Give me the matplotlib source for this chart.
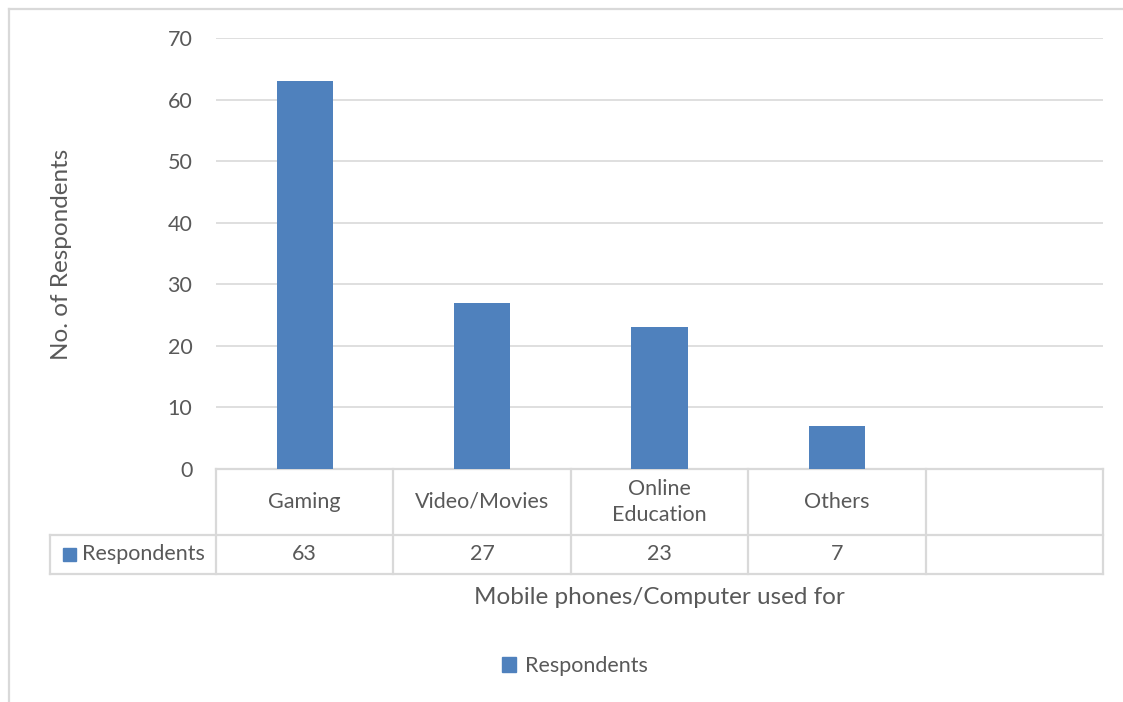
import matplotlib.pyplot as plt
import matplotlib.transforms as mtransforms
from matplotlib.patches import Patch, Rectangle

# Survey data
categories = ["Gaming", "Video/Movies", "Online\nEducation", "Others", ""]
respondents = [63, 27, 23, 7]
series_name = "Respondents"

bar_color = "#4F81BD"
text_color = "#595959"
line_color = "#D9D9D9"

plt.rcParams['font.family'] = ['Lato', 'DejaVu Sans']
fs = 15.5

W, H = 1123, 702
fig = plt.figure(figsize=(W / 100, H / 100), dpi=100)

# plot area in pixel terms
x0, x1 = 216, 1103
y_top, y_bot = 38, 469
ax = fig.add_axes([x0 / W, 1 - y_bot / H, (x1 - x0) / W, (y_bot - y_top) / H])

n = len(categories)
xs = list(range(len(respondents)))
ax.bar(xs, respondents, width=0.316, color=bar_color, zorder=3)

ax.set_xlim(-0.5, n - 0.5)
ax.set_ylim(0, 70)
ax.set_yticks(range(0, 71, 10))
ax.yaxis.grid(True, color=line_color, lw=1.2, zorder=0)
for s in ax.spines.values():
    s.set_visible(False)
ax.set_xticks([])
ax.tick_params(axis='y', length=0, pad=17, labelsize=fs, labelcolor=text_color)

# data table under the plot
trans = mtransforms.blended_transform_factory(ax.transData, ax.transAxes)
ph = y_bot - y_top
row1 = -(535 - y_bot) / ph
row2 = -(574 - y_bot) / ph
cell_w = (x1 - x0) / n
left_edge = -0.5 - (x0 - 50) / cell_w

lk = dict(color=line_color, lw=1.6, transform=trans, clip_on=False, zorder=1)
ax.plot([-0.5, n - 0.5], [0, 0], **lk)
ax.plot([left_edge, n - 0.5], [row1, row1], **lk)
ax.plot([left_edge, n - 0.5], [row2, row2], **lk)
for i in range(n + 1):
    ax.plot([i - 0.5, i - 0.5], [0, row2], **lk)
ax.plot([left_edge, left_edge], [row1, row2], **lk)

for i, cat in enumerate(categories):
    ax.text(i, row1 / 2, cat, transform=trans, ha='center', va='center',
            fontsize=fs, color=text_color, linespacing=1.4)
for i, v in enumerate(respondents):
    ax.text(i, (row1 + row2) / 2, str(v), transform=trans, ha='center',
            va='center', fontsize=fs, color=text_color)

# legend key in the table row label
fig.add_artist(Rectangle((63 / W, 1 - 561 / H), 13 / W, 13 / H,
                         color=bar_color, transform=fig.transFigure))
fig.text(82 / W, 1 - 554 / H, series_name, fontsize=fs, color=text_color,
         ha='left', va='center')

# axis titles
fig.text(62 / W, 1 - 254 / H, "No. of Respondents", rotation=90,
         ha='center', va='center', fontsize=17.5, color=text_color)
fig.text(659 / W, 1 - 597 / H, "Mobile phones/Computer used for",
         ha='center', va='center', fontsize=17.5, color=text_color)

# bottom legend
fig.legend(handles=[Patch(color=bar_color, label=series_name)],
           loc='center', bbox_to_anchor=(575 / W, 1 - 666 / H),
           frameon=False, handlelength=0.65, handleheight=0.65,
           handletextpad=0.4, fontsize=fs, labelcolor=text_color)

# chart border
fig.add_artist(plt.Line2D([9 / W, 9 / W], [0, 1 - 9 / H], color=line_color,
                          lw=1.6, transform=fig.transFigure))
fig.add_artist(plt.Line2D([9 / W, 1], [1 - 9 / H, 1 - 9 / H], color=line_color,
                          lw=1.6, transform=fig.transFigure))

fig.savefig("out.png", dpi=100)
